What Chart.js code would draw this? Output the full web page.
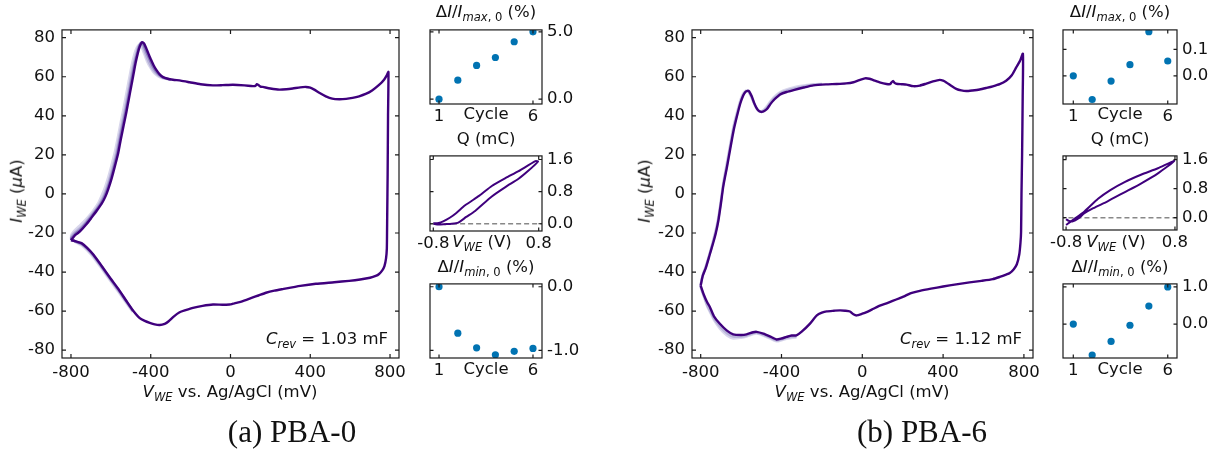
<!DOCTYPE html>
<html>
<head>
<meta charset="utf-8">
<script src="https://cdn.jsdelivr.net/npm/chart.js@4.4.1/dist/chart.umd.min.js"></script>
<style>
  body { margin: 0; background: #fff; width: 1225px; height: 456px; position: relative; overflow: hidden; }
  canvas { position: absolute; }
  .lb { position: absolute; font: 16.5px "DejaVu Sans", sans-serif; line-height: 1; white-space: nowrap; transform: translate(-50%, -50%); color: #111; }
  .rt { transform: translate(-100%, -50%); }
  .rot { transform: translate(-50%, -50%) rotate(-90deg); }
  .it { font-style: italic; }
  .sb { font-size: 70%; position: relative; top: 0.32em; }
  .cap { font: 31px "Liberation Serif", serif; }
</style>
</head>
<body>
<canvas id="mainA"></canvas>
<canvas id="maxA"></canvas>
<canvas id="qA"></canvas>
<canvas id="minA"></canvas>
<canvas id="mainB"></canvas>
<canvas id="maxB"></canvas>
<canvas id="qB"></canvas>
<canvas id="minB"></canvas>

<!-- panel (a) labels -->
<div class="lb rot" style="left:17px;top:191px"><span class="it">I</span><span class="sb it">WE</span> (<span class="it">μ</span>A)</div>
<div class="lb" style="left:230px;top:392px"><span class="it">V</span><span class="sb it">WE</span> vs. Ag/AgCl (mV)</div>
<div class="lb rt" style="left:388px;top:339px"><span class="it">C</span><span class="sb it">rev</span> = 1.03 mF</div>
<div class="lb cap" style="left:292px;top:432px">(a) PBA-0</div>
<div class="lb" style="left:486px;top:12px">Δ<span class="it">I</span>/<span class="it">I</span><span class="sb"><i>max</i>, 0</span> (%)</div>
<div class="lb" style="left:486px;top:114px">Cycle</div>
<div class="lb" style="left:486px;top:139px">Q (mC)</div>
<div class="lb" style="left:482px;top:242px"><span class="it">V</span><span class="sb it">WE</span> (V)</div>
<div class="lb" style="left:486px;top:267px">Δ<span class="it">I</span>/<span class="it">I</span><span class="sb"><i>min</i>, 0</span> (%)</div>
<div class="lb" style="left:486px;top:369px">Cycle</div>

<!-- panel (b) labels -->
<div class="lb rot" style="left:645px;top:191px"><span class="it">I</span><span class="sb it">WE</span> (<span class="it">μ</span>A)</div>
<div class="lb" style="left:862px;top:392px"><span class="it">V</span><span class="sb it">WE</span> vs. Ag/AgCl (mV)</div>
<div class="lb rt" style="left:1022px;top:339px"><span class="it">C</span><span class="sb it">rev</span> = 1.12 mF</div>
<div class="lb cap" style="left:922px;top:432px">(b) PBA-6</div>
<div class="lb" style="left:1120px;top:12px">Δ<span class="it">I</span>/<span class="it">I</span><span class="sb"><i>max</i>, 0</span> (%)</div>
<div class="lb" style="left:1120px;top:114px">Cycle</div>
<div class="lb" style="left:1120px;top:139px">Q (mC)</div>
<div class="lb" style="left:1116px;top:242px"><span class="it">V</span><span class="sb it">WE</span> (V)</div>
<div class="lb" style="left:1120px;top:267px">Δ<span class="it">I</span>/<span class="it">I</span><span class="sb"><i>min</i>, 0</span> (%)</div>
<div class="lb" style="left:1120px;top:369px">Cycle</div>

<script>
// ---- tick values ----
const mainXTicks = [-800, -400, 0, 400, 800];
const mainYTicks = [-80, -60, -40, -20, 0, 20, 40, 60, 80];
const cycleTicks = [1, 6];
const qXTicks = [-0.8, 0.8];
const qYTicks = [0, 0.8, 1.6];
const maxTicksA = [0, 5];
const minTicksA = [-1, 0];
const maxTicksB = [0, 0.1];
const minTicksB = [0, 1];

// ---- inset points ----
const cycles = [1, 2, 3, 4, 5, 6];
const dImaxA = [0.0, 1.41, 2.5, 3.09, 4.26, 5.0];
const dIminA = [0.0, -0.73, -0.96, -1.07, -1.015, -0.97];
const dImaxB = [0.0, -0.09, -0.02, 0.042, 0.167, 0.056];
const dIminB = [0.0, -0.83, -0.465, -0.03, 0.485, 1.0];

// ---- CV, panel (a): [V (mV), I (uA)] ----
const cvA6 = [[-800,-23.7],[-778,-21],[-755,-19.2],[-725,-15.8],[-696,-12],[-670,-8.5],[-646,-5],[-628,-1.5],[-613,2.5],[-596,8],[-579,14.5],[-563,21],[-550,28],[-536,35],[-522,42],[-510,48.5],[-498,55],[-487,61],[-476,67],[-465,72],[-455,75.5],[-446,77.5],[-440,77.6],[-433,77],[-424,75],[-412,72],[-399,68.8],[-385,65.8],[-372,63.5],[-355,61.2],[-338,59.8],[-315,59],[-288,58.5],[-250,58],[-205,57.2],[-150,56.2],[-88,55.6],[-40,55.7],[12,55.9],[70,55.6],[112,55.2],[125,55.3],[132,56.2],[140,55.8],[150,55],[162,54.8],[200,54],[245,53.4],[280,53.6],[312,54],[350,54.6],[378,54.8],[400,54.4],[420,53.4],[445,51.8],[478,50],[510,48.8],[545,48.5],[580,48.7],[612,49.2],[645,50],[678,51.2],[710,53],[745,55.8],[770,58.5],[785,61],[792,62.5],[790,40],[788,10],[786,-10],[785,-20],[784,-28],[780,-33],[772,-37],[762,-39],[745,-41],[728,-42],[700,-42.9],[650,-43.8],[595,-44.5],[520,-45.2],[428,-46],[350,-47.1],[262,-48.7],[220,-49.5],[178,-50.6],[140,-52],[112,-53],[80,-54.2],[45,-55.4],[20,-56],[7,-56.4],[-5,-56.6],[-40,-56.7],[-88,-56.6],[-140,-57.3],[-188,-58.3],[-225,-59.5],[-255,-60.6],[-285,-62.8],[-310,-65.2],[-330,-66.5],[-355,-67.1],[-380,-66.8],[-405,-66],[-430,-65],[-455,-63.6],[-490,-59.5],[-522,-54.8],[-560,-49],[-605,-42.8],[-645,-37],[-688,-31],[-720,-27.5],[-747,-25.2],[-775,-24.3],[-800,-23.7]];
const cvA5 = [[-490,-59.7],[-522,-55],[-560,-49.3],[-605,-43.1],[-645,-37.3],[-688,-31.3],[-720,-27.8],[-747,-25.5],[-775,-24.4],[-800,-23],[-780,-20.5],[-757,-18.6],[-727,-15.3],[-698,-11.6],[-672,-8],[-650,-4.8],[-632,-1.2],[-617,2.8],[-600,8.3],[-583,14.7],[-567,21.3],[-554,28.3],[-540,35.3],[-526,42.3],[-514,48.8],[-502,55.3],[-491,61.3],[-480,67],[-469,71.8],[-459,75.3],[-450,77.3],[-444,77.4],[-437,76.6],[-428,74.3],[-416,71.2],[-402,68],[-388,65],[-374,62.8],[-356,60.8],[-338,59.6],[-300,58.6]];
const cvA3 = [[-490,-60],[-522,-55.4],[-560,-49.8],[-605,-43.5],[-645,-37.8],[-688,-31.8],[-720,-28.2],[-747,-25.8],[-775,-24.6],[-800,-22.3],[-782,-19.8],[-758,-17.8],[-728,-14.6],[-700,-11],[-673,-7.5],[-655,-4.5],[-637,-1],[-622,3],[-605,8.5],[-588,14.8],[-572,21.5],[-559,28.5],[-545,35.5],[-531,42.5],[-519,49],[-507,55.5],[-496,61.5],[-485,67],[-474,71.5],[-464,75],[-455,76.8],[-448,76.9],[-440,75.5],[-430,72.8],[-418,69.5],[-404,66.3],[-390,63.8],[-374,61.8],[-355,60.3],[-330,59.2],[-300,58.6]];
const cvA1 = [[-490,-60.5],[-522,-56],[-560,-50.5],[-605,-44.2],[-645,-38.5],[-688,-32.5],[-720,-28.8],[-747,-26.3],[-775,-24.8],[-800,-21.5],[-785,-19],[-760,-16.5],[-730,-13.5],[-700,-10],[-675,-6.5],[-660,-4],[-645,-0.5],[-629,3.5],[-612,9],[-595,15.5],[-579,22],[-565,29],[-552,36],[-538,43],[-526,49.5],[-514,56],[-503,62],[-492,67.5],[-481,72],[-470,75],[-460,76.3],[-452,76.2],[-443,74.5],[-432,71.5],[-419,68],[-404,65],[-388,62.5],[-370,60.8],[-350,59.6],[-325,58.9],[-300,58.5]];

// ---- CV, panel (b) ----
const cvB6 = [[-800,-47],[-790,-42],[-775,-38],[-755,-31],[-738,-25],[-725,-20],[-713,-14],[-700,-5],[-688,4],[-669,14.3],[-653,23.5],[-637,32.5],[-620,40],[-604,46.3],[-590,50.3],[-579,52.2],[-568,52.8],[-560,52.5],[-552,51],[-546,49.7],[-535,46.5],[-521,43.5],[-510,42.3],[-497,42],[-485,42.5],[-472,43.5],[-455,46],[-439,48],[-420,49.8],[-406,51],[-375,52.2],[-340,53.2],[-290,54.5],[-242,55.6],[-180,56.1],[-127,56.3],[-80,56.6],[-44,57.2],[-15,58.3],[13,59.2],[35,59],[54,58.3],[90,57],[120,56.3],[137,56.2],[145,57.2],[153,57.8],[160,56.9],[169,56.4],[195,56.2],[219,56],[252,55.2],[285,55.5],[317,56.5],[350,57.6],[383,58.4],[400,58],[416,57.1],[440,55.4],[465,53.8],[490,53],[515,52.7],[545,53],[581,53.5],[615,54.3],[646,55.1],[680,56.2],[712,58],[740,60.8],[762,64.8],[780,68],[795,71.8],[794,50],[791,20],[788,0],[786,-19.4],[783,-25],[777,-31],[765,-36],[750,-38.5],[730,-40.5],[712,-41.3],[680,-42.5],[646,-43.6],[590,-44.5],[531,-45.3],[465,-46.3],[400,-47.4],[340,-48.5],[285,-49.6],[250,-50.5],[235,-51],[210,-52.3],[186,-53.3],[150,-54.8],[120,-56],[87,-57.2],[55,-58.8],[21,-60.5],[0,-61.3],[-28,-62.2],[-44,-61.6],[-61,-60.2],[-85,-59.8],[-110,-59.6],[-140,-59.8],[-176,-60.1],[-200,-60.8],[-225,-62.2],[-260,-66.5],[-300,-70.5],[-326,-72.4],[-350,-72.5],[-375,-73.2],[-400,-74],[-425,-74.5],[-458,-72.9],[-490,-71.5],[-523,-70.6],[-540,-70.8],[-573,-71.9],[-600,-72.2],[-639,-71.9],[-670,-70],[-705,-66.5],[-735,-62.5],[-754,-58],[-768,-55.5],[-785,-51.5],[-800,-47]];
const cvB3 = [[-326,-73],[-350,-73.1],[-375,-73.7],[-400,-74.5],[-425,-75],[-458,-73.5],[-490,-72],[-523,-71.1],[-540,-71.2],[-573,-72.5],[-600,-73],[-639,-73],[-670,-71.3],[-705,-67.8],[-735,-63.7],[-754,-59.8],[-768,-57],[-785,-52],[-800,-47.2],[-790,-41.7],[-775,-37.5],[-755,-30.5],[-738,-24.2],[-725,-19],[-713,-13],[-700,-4],[-688,5],[-669,15.5],[-653,25],[-637,34],[-620,41],[-604,47],[-590,50.8],[-575,52.6],[-565,52.7],[-552,50.5],[-535,46.3],[-521,43.5],[-510,42.4],[-497,42.2],[-485,43],[-472,44.3],[-455,46.8],[-439,48.8],[-420,50.5],[-406,51.6],[-375,52.9],[-340,53.9],[-290,55],[-242,55.9],[-200,56.2]];
const cvB1 = [[-326,-73.5],[-350,-73.8],[-375,-74.2],[-400,-75],[-425,-75.5],[-458,-74],[-490,-72.5],[-523,-71.5],[-540,-71.8],[-573,-73],[-600,-73.6],[-639,-74],[-670,-72.5],[-705,-69],[-735,-64.5],[-754,-60.5],[-768,-57.5],[-785,-52.5],[-800,-47.5],[-790,-41.5],[-775,-37],[-755,-30],[-738,-23.5],[-725,-18],[-713,-12],[-700,-3],[-688,6],[-669,17],[-653,26],[-637,35],[-620,42],[-604,48],[-590,51.5],[-575,53],[-565,52.5],[-552,50],[-535,46],[-521,43.5],[-510,42.5],[-497,42.5],[-485,43.5],[-472,45],[-455,47.5],[-439,49.5],[-420,51.2],[-406,52.2],[-375,53.5],[-340,54.6],[-290,55.5],[-242,56.2],[-200,56.4]];

// ---- charge loops: [V (V), Q (mC)] ----
const qA = [[-0.8,0],[-0.72,-0.02],[-0.62,-0.01],[-0.52,0],[-0.42,0.03],[-0.3,0.17],[-0.165,0.32],[0.088,0.68],[0.3,0.92],[0.494,1.12],[0.65,1.33],[0.79,1.55],[0.75,1.56],[0.494,1.31],[0.3,1.14],[0.088,0.94],[-0.1,0.7],[-0.317,0.46],[-0.45,0.27],[-0.55,0.15],[-0.65,0.06],[-0.72,0.02],[-0.8,0.01]];
const qB = [[-0.8,-0.04],[-0.76,-0.09],[-0.7,-0.1],[-0.62,-0.02],[-0.53,0.12],[-0.4,0.26],[-0.19,0.45],[0.05,0.69],[0.3,0.94],[0.55,1.22],[0.79,1.56],[0.55,1.36],[0.3,1.18],[0.06,0.98],[-0.15,0.76],[-0.33,0.52],[-0.53,0.17],[-0.68,-0.04],[-0.8,-0.2]];
const qZero = [[-1, 0], [1, 0]];

const cycleColors = ['#d9d7ec', '#b8b4d9', '#8676bb', '#3f007d'];
const dotColor = '#0173b2';

const pts = arr => arr.map(([x, y]) => ({x, y}));
const xy = (xs, ys) => xs.map((x, i) => ({x, y: ys[i]}));

// frame with inward ticks on all four sides
const frame = {
  id: 'frame',
  afterDraw(chart) {
    const {ctx, chartArea: a, scales} = chart;
    const L = chart.options.plugins.frame.len;
    ctx.save();
    ctx.strokeStyle = '#1a1a1a';
    ctx.lineWidth = 1.2;
    ctx.strokeRect(a.left, a.top, a.right - a.left, a.bottom - a.top);
    ctx.beginPath();
    scales.x.ticks.forEach(t => {
      const p = scales.x.getPixelForValue(t.value);
      ctx.moveTo(p, a.bottom); ctx.lineTo(p, a.bottom - L);
      ctx.moveTo(p, a.top); ctx.lineTo(p, a.top + L);
    });
    scales.y.ticks.forEach(t => {
      const p = scales.y.getPixelForValue(t.value);
      ctx.moveTo(a.left, p); ctx.lineTo(a.left + L, p);
      ctx.moveTo(a.right, p); ctx.lineTo(a.right - L, p);
    });
    ctx.stroke();
    ctx.restore();
  }
};

// box = [left, top, right, bottom] of plot area, m = [left, right, top, bottom] margins
function makeChart(id, box, m, right, xs, ys, datasets, tickLen) {
  const cv = document.getElementById(id);
  cv.width = box[2] - box[0] + m[0] + m[1];
  cv.height = box[3] - box[1] + m[2] + m[3];
  cv.style.left = (box[0] - m[0]) + 'px';
  cv.style.top = (box[1] - m[2]) + 'px';
  const axis = (s, pos, fit) => ({
    type: 'linear', min: s.min, max: s.max, position: pos,
    afterBuildTicks: a => { a.ticks = s.ticks.map(v => ({value: v})); },
    afterFit: fit,
    grid: {display: false, drawTicks: false},
    border: {display: false},
    ticks: {padding: s.pad, color: '#111', font: {family: 'DejaVu Sans', size: 16.5},
            callback: s.fmt || (v => String(v))}
  });
  return new Chart(cv, {
    type: 'scatter',
    data: {datasets},
    options: {
      responsive: false, animation: false, devicePixelRatio: 1,
      layout: {padding: {left: right ? m[0] : 0, right: right ? 0 : m[1], top: m[2], bottom: 0}},
      plugins: {legend: {display: false}, tooltip: {enabled: false}, frame: {len: tickLen}},
      scales: {
        x: axis(xs, 'bottom', a => { a.height = m[3]; }),
        y: axis(ys, right ? 'right' : 'left', a => { a.width = right ? m[1] : m[0]; })
      }
    },
    plugins: [frame]
  });
}

const line = (arr, color, order, w) => ({data: pts(arr), showLine: true, borderColor: color,
  borderWidth: w || 2.4, pointRadius: 0, tension: 0.2, order});
const dots = (ys) => ({data: xy(cycles, ys), backgroundColor: dotColor, pointRadius: 3.6, borderWidth: 0});
const f1 = v => v.toFixed(1);

const mainM = [60, 20, 12, 34];
const insM = [22, 40, 12, 26];

// panel (a)
makeChart('mainA', [62, 25, 399, 358], mainM, false,
  {min: -845, max: 845, ticks: mainXTicks, pad: 5},
  {min: -84, max: 84, ticks: mainYTicks, pad: 7},
  [line(cvA1, cycleColors[0], 3), line(cvA3, cycleColors[1], 2), line(cvA5, cycleColors[2], 1), line(cvA6, cycleColors[3], 0)], 4);
makeChart('maxA', [430, 27, 542, 104], insM, true,
  {min: 0.52, max: 6.48, ticks: cycleTicks, pad: 3},
  {min: -0.36, max: 5.14, ticks: maxTicksA, pad: 5, fmt: f1}, [dots(dImaxA)], 3.5);
makeChart('qA', [430, 153, 542, 231], insM, true,
  {min: -0.85, max: 0.85, ticks: qXTicks, pad: 3, fmt: f1},
  {min: -0.18, max: 1.69, ticks: qYTicks, pad: 5, fmt: f1},
  [line(qA, cycleColors[3], 0, 2),
   {data: pts(qZero), showLine: true, borderColor: '#888', borderDash: [5, 3], borderWidth: 1.5, pointRadius: 0, order: 1}], 3.5);
makeChart('minA', [430, 281, 542, 358], insM, true,
  {min: 0.52, max: 6.48, ticks: cycleTicks, pad: 3},
  {min: -1.12, max: 0.045, ticks: minTicksA, pad: 5, fmt: f1}, [dots(dIminA)], 3.5);

// panel (b)
makeChart('mainB', [692, 25, 1033, 358], mainM, false,
  {min: -843, max: 845, ticks: mainXTicks, pad: 5},
  {min: -84, max: 84, ticks: mainYTicks, pad: 7},
  [line(cvB1, cycleColors[0], 2), line(cvB3, cycleColors[1], 1), line(cvB6, cycleColors[3], 0)], 4);
makeChart('maxB', [1063, 27, 1177, 104], insM, true,
  {min: 0.455, max: 6.49, ticks: cycleTicks, pad: 3},
  {min: -0.107, max: 0.174, ticks: maxTicksB, pad: 5, fmt: f1}, [dots(dImaxB)], 3.5);
makeChart('qB', [1063, 153, 1177, 230], insM, true,
  {min: -0.845, max: 0.83, ticks: qXTicks, pad: 3, fmt: f1},
  {min: -0.34, max: 1.7, ticks: qYTicks, pad: 5, fmt: f1},
  [line(qB, cycleColors[3], 0, 2),
   {data: pts(qZero), showLine: true, borderColor: '#888', borderDash: [5, 3], borderWidth: 1.5, pointRadius: 0, order: 1}], 3.5);
makeChart('minB', [1063, 281, 1177, 358], insM, true,
  {min: 0.455, max: 6.49, ticks: cycleTicks, pad: 3},
  {min: -0.91, max: 1.08, ticks: minTicksB, pad: 5, fmt: f1}, [dots(dIminB)], 3.5);
</script>
</body>
</html>
